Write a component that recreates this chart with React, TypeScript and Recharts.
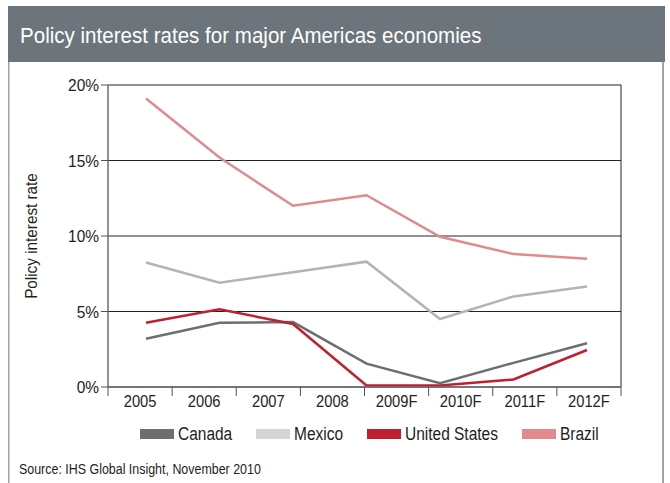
import { LineChart, Line, XAxis, YAxis, CartesianGrid, Legend } from 'recharts'

// category labels under the axis (8 bands)
const years = ['2005', '2006', '2007', '2008', '2009F', '2010F', '2011F', '2012F']
// the plotted series only have 7 observations, spread evenly across the plot
const periods = ['p1', 'p2', 'p3', 'p4', 'p5', 'p6', 'p7']
const canada = [3.2, 4.25, 4.3, 1.55, 0.25, 1.6, 2.9]
const mexico = [8.25, 6.9, 7.6, 8.3, 4.5, 6.0, 6.65]
const unitedStates = [4.25, 5.15, 4.17, 0.1, 0.1, 0.5, 2.45]
const brazil = [19.1, 15.2, 12.0, 12.7, 9.95, 8.8, 8.5]
const yTicks = [0, 5, 10, 15, 20]

const yearRows = years.map(y => ({ year: y }))
const rows = periods.map((p, i) => ({
  period: p,
  canada: canada[i],
  mexico: mexico[i],
  us: unitedStates[i],
  brazil: brazil[i],
}))

const FONT = '"Liberation Sans", Arial, sans-serif'
const INK = '#1e1e1e'
const BAND = 513 / years.length

const series = [
  { key: 'canada', name: 'Canada', color: '#6d6e70', swatch: '#6d6e70' },
  { key: 'mexico', name: 'Mexico', color: '#b4b4b4', swatch: '#d3d5d6' },
  { key: 'us', name: 'United States', color: '#c01f2e', swatch: '#c01f2e' },
  { key: 'brazil', name: 'Brazil', color: '#e08a8e', swatch: '#e08a8e' },
]

let ctx: CanvasRenderingContext2D | null = null
function textWidth(t: string, size: number) {
  if (!ctx) ctx = document.createElement('canvas').getContext('2d')
  if (!ctx) return t.length * size * 0.5
  ctx.font = `${size}px "Liberation Sans"`
  return ctx.measureText(t).width
}

function YearTick({ x, y, payload, index }: any) {
  return (
    <g>
      <line x1={x - BAND / 2} x2={x - BAND / 2} y1={y} y2={y + 9} stroke="#555" />
      {index === years.length - 1 && <line x1={x + BAND / 2} x2={x + BAND / 2} y1={y} y2={y + 9} stroke="#555" />}
      <text transform={`translate(${x},${y + 20}) scale(0.92,1)`} textAnchor="middle" fontSize={16} fill={INK} fontFamily={FONT}>
        {payload.value}
      </text>
    </g>
  )
}

function PctTick({ x, y, payload }: any) {
  return (
    <text transform={`translate(${x},${y}) scale(0.91,1)`} dy="0.36em" textAnchor="end" fontSize={17} fill={INK} fontFamily={FONT}>
      {`${payload.value}%`}
    </text>
  )
}

function YLabel({ viewBox }: any) {
  const cy = viewBox.y + viewBox.height / 2
  return (
    <text transform={`translate(${viewBox.x + 37},${cy}) rotate(-90) scale(0.9,1)`} textAnchor="middle" fontSize={17} fill={INK} fontFamily={FONT}>
      Policy interest rate
    </text>
  )
}

function LegendContent() {
  const size = 18
  const k = 0.86
  return (
    <div style={{ display: 'flex', alignItems: 'center', height: 20, paddingLeft: 140, fontFamily: FONT, fontSize: size, color: INK }}>
      {series.map((s, i) => (
        <div key={s.key} style={{ display: 'flex', alignItems: 'center', marginRight: i < series.length - 1 ? 24 : 0 }}>
          <div style={{ width: 34, height: 10, background: s.swatch, marginRight: 4 }} />
          <span style={{ display: 'inline-block', width: textWidth(s.name, size) * k, whiteSpace: 'nowrap', lineHeight: '20px' }}>
            <span style={{ display: 'inline-block', transform: `scaleX(${k})`, transformOrigin: '0 0' }}>{s.name}</span>
          </span>
        </div>
      ))}
    </div>
  )
}

export default function App() {
  const title = 'Policy interest rates for major Americas economies'
  const source = 'Source: IHS Global Insight, November 2010'
  return (
    <div style={{ position: 'absolute', left: 0, top: 0, width: 670, height: 483, background: '#fff', overflow: 'hidden' }}>
      <svg width={670} height={483} style={{ position: 'absolute', left: 0, top: 0 }}>
        <rect x={8} y={6} width={657} height={56} fill="#6b757b" />
        <text transform={`translate(20,43) scale(${463 / textWidth(title, 22)},1)`} fontSize={22} fill="#fff" fontFamily={FONT}>
          {title}
        </text>
        <rect x={8} y={62} width={1.5} height={421} fill="#a3a3a3" />
        <rect x={662} y={62} width={2} height={421} fill="#a3a3a3" />
        <text transform={`translate(19,474) scale(${242 / textWidth(source, 14)},1)`} fontSize={14} fill={INK} fontFamily={FONT}>
          {source}
        </text>
      </svg>
      <div style={{ position: 'absolute', left: 0, top: 0 }}>
        <LineChart width={670} height={483} data={yearRows} margin={{ top: 85, right: 49, left: 0, bottom: 46 }}>
          <CartesianGrid
            xAxisId="year"
            stroke="#222"
            strokeWidth={1}
            verticalCoordinatesGenerator={({ offset }: any) => [offset.left + offset.width]}
          />
          <XAxis
            xAxisId="period"
            dataKey="period"
            type="category"
            allowDuplicatedCategory={false}
            hide
            height={0}
            padding={{ left: 38, right: 34 }}
          />
          <XAxis
            xAxisId="year"
            dataKey="year"
            type="category"
            scale="band"
            height={30}
            tickSize={0}
            tickMargin={0}
            tickLine={false}
            interval={0}
            axisLine={{ stroke: '#6e6e6e', strokeWidth: 1.5 }}
            tick={(props: any) => <YearTick {...props} />}
          />
          <YAxis
            domain={[0, 20]}
            ticks={yTicks}
            width={108}
            tick={(props: any) => <PctTick {...props} />}
            tickSize={7}
            tickMargin={2}
            tickLine={{ stroke: '#555' }}
            axisLine={{ stroke: '#6e6e6e', strokeWidth: 1.5 }}
            label={{ content: (p: any) => <YLabel {...p} /> }}
          />
          {series.map(s => (
            <Line
              key={s.key}
              data={rows}
              xAxisId="period"
              type="linear"
              dataKey={s.key}
              name={s.name}
              stroke={s.color}
              strokeWidth={2.5}
              dot={false}
              isAnimationActive={false}
            />
          ))}
          <Legend content={<LegendContent />} wrapperStyle={{ top: 424, left: 0, height: 20 }} />
        </LineChart>
      </div>
    </div>
  )
}
